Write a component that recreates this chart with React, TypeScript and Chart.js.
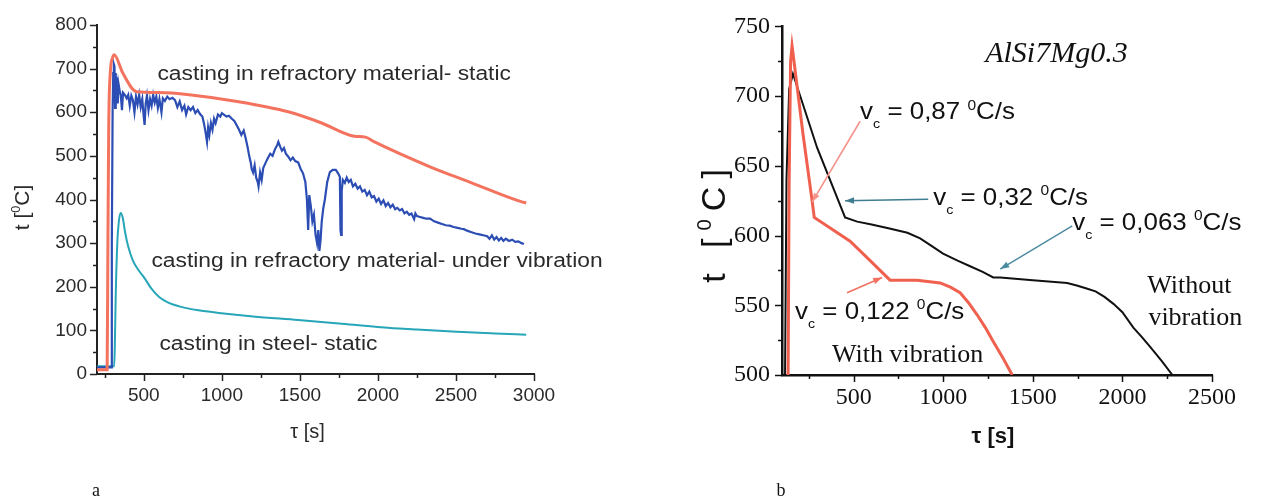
import React, { useEffect, useRef } from "react";
import { Chart, registerables } from "chart.js";

Chart.register(...registerables);

// ---------------- Panel a : data ----------------
const staticRefractoryX = [200, 265, 270, 275, 285, 300, 310, 365, 454, 600, 790, 1108, 1425, 1635, 1850, 1920, 1978, 2334, 2588, 2918, 2950];
const staticRefractoryY = [10, 10, 300, 560, 690, 725, 732, 690, 647, 645, 640, 624, 601, 576, 545, 543, 532, 475, 440, 395, 392];

const vibrationRefractoryX = [
  200, 290, 295, 300, 304, 308, 312, 316, 320, 324, 328, 333, 338, 345, 352, 360, 367, 378, 390, 400,
  410, 420, 430, 440, 450, 460, 470, 480, 490, 498, 505, 512, 520, 530, 540, 550, 560, 570, 580, 590,
  600, 613, 622, 635, 650, 665, 683, 700, 715, 730, 745, 760, 771, 785, 800, 815, 830, 845, 860, 875,
  885, 895, 905, 912, 920, 930, 940, 950, 960, 975, 990, 1000, 1015, 1030, 1045, 1064, 1080, 1095, 1110, 1125,
  1140, 1153, 1165, 1175, 1185, 1191, 1200, 1210, 1220, 1230, 1235, 1245, 1255, 1265, 1280, 1295, 1310, 1325, 1340, 1355,
  1362, 1375, 1385, 1398, 1410, 1426, 1440, 1455, 1470, 1489, 1505, 1520, 1535, 1545, 1553, 1560, 1570, 1580, 1590, 1600,
  1610, 1618, 1625, 1632, 1640, 1650, 1660, 1675, 1692, 1710, 1730, 1745, 1756, 1760, 1764, 1768, 1775, 1788, 1800, 1813,
  1826, 1840, 1855, 1870, 1885, 1900, 1915, 1930, 1945, 1960, 1975, 1990, 2005, 2020, 2035, 2050, 2065, 2080, 2095, 2110,
  2124, 2140, 2155, 2170, 2185, 2200, 2215, 2232, 2240, 2250, 2270, 2290, 2310, 2334, 2360, 2385, 2410, 2435, 2460, 2485,
  2510, 2535, 2550, 2575, 2600, 2625, 2650, 2675, 2700, 2715, 2730, 2745, 2760, 2775, 2790, 2804, 2820, 2840, 2860, 2880,
  2900, 2920, 2935,
];
const vibrationRefractoryY = [
  15, 15, 300, 600, 690, 710, 705, 610, 690, 640, 680, 620, 665, 650, 640, 605, 645, 640, 632, 640,
  615, 638, 628, 600, 636, 618, 640, 612, 630, 595, 571, 620, 638, 605, 630, 615, 640, 622, 636, 610,
  630, 600, 632, 626, 636, 630, 633, 628, 612, 625, 605, 615, 595, 612, 605, 612, 598, 605, 596, 590,
  575, 555, 532, 565, 548, 575, 560, 585, 575, 595, 590, 598, 594, 590, 592, 585, 580, 570, 560, 548,
  558, 540, 520, 500, 485, 470, 462, 478, 450, 440, 430, 462, 445, 472, 484, 495, 505, 500, 515, 525,
  532, 520, 512, 518, 505, 498, 490, 496, 488, 485, 470, 460, 440, 400, 330, 410, 385, 350, 365, 320,
  300, 330, 282, 305, 350, 380, 400, 440, 463, 468, 468, 460, 452, 330, 319, 420, 445, 438, 450, 440,
  445, 430, 436, 425, 430, 418, 422, 410, 418, 405, 408, 395, 402, 390, 398, 385, 392, 382, 388, 378,
  381, 375, 378, 368, 372, 365, 368, 355, 368, 362, 360, 358, 356, 356, 350, 347, 344, 341, 340, 337,
  335, 333, 332, 328, 325, 322, 320, 318, 316, 310, 318, 308, 314, 306, 312, 305, 310, 305, 308, 303,
  304, 300, 298,
];

const steelStaticX = [200, 310, 314, 320, 330, 340, 352, 365, 380, 400, 430, 470, 500, 550, 600, 660, 727, 850, 981, 1200, 1489, 1750, 1997, 2250, 2505, 2750, 2950];
const steelStaticY = [18, 18, 60, 180, 300, 350, 369, 358, 325, 292, 260, 236, 222, 195, 176, 163, 155, 146, 140, 132, 124, 116, 108, 102, 97, 93, 90];

const xTicksA = [500, 1000, 1500, 2000, 2500, 3000];
const xMinorA = [250, 750, 1250, 1750, 2250, 2750];
const yTicksA = [0, 100, 200, 300, 400, 500, 600, 700, 800];
const yMinorA = [50, 150, 250, 350, 450, 550, 650, 750];

// ---------------- Panel b : data ----------------
const withoutVibrationX = [117, 125, 140, 161, 296, 452, 520, 600, 700, 800, 871, 930, 999, 1080, 1150, 1220, 1279, 1318, 1500, 1692, 1750, 1800, 1850, 1900, 1950, 2000, 2061, 2110, 2156, 2220, 2279];
const withoutVibrationY = [500, 640, 705, 716, 663, 613, 610, 608, 605, 602, 598, 593, 587, 582, 578, 574, 570, 570, 568, 566, 564, 562, 560, 556, 551, 545, 534, 527, 520, 510, 500];

const withVibrationX = [134, 140, 148, 156, 162, 217, 268, 280, 480, 592, 703, 854, 983, 1040, 1094, 1140, 1190, 1235, 1279, 1330, 1385];
const withVibrationY = [500, 640, 725, 736, 730, 673, 625, 613, 596, 582, 568, 568, 566, 563, 559, 552, 543, 534, 524, 513, 500];

const xTicksB = [500, 1000, 1500, 2000, 2500];
const xMinorB = [250, 750, 1250, 1750, 2250];
const yTicksB = [500, 550, 600, 650, 700, 750];
const yMinorB = [525, 575, 625, 675, 725];

// ---------------- helpers ----------------
type Seg = { t: string; sub?: boolean; sup?: boolean };

const pts = (xs: number[], ys: number[]) => xs.map((x, i) => ({ x, y: ys[i] }));

function segFont(s: Seg, size: number, family: string, style: string) {
  const fs = s.sub ? size * 0.55 : s.sup ? size * 0.6 : size;
  return `${style} ${fs}px ${family}`;
}

function drawRich(
  ctx: CanvasRenderingContext2D,
  segs: Seg[],
  x: number,
  y: number,
  size: number,
  family: string,
  style: string,
  color: string,
  align: "left" | "center" = "left",
  sx = 1,
  rotate = 0,
  spacing = 0
) {
  ctx.save();
  ctx.translate(x, y);
  if (rotate) ctx.rotate(rotate);
  ctx.scale(sx, 1);
  ctx.fillStyle = color;
  ctx.textBaseline = "middle";
  ctx.textAlign = "left";
  (ctx as any).letterSpacing = `${spacing}px`;
  const widths: number[] = [];
  let w = 0;
  for (const s of segs) {
    ctx.font = segFont(s, size, family, style);
    const m = ctx.measureText(s.t).width;
    widths.push(m);
    w += m;
  }
  let cx = align === "center" ? -w / 2 : 0;
  segs.forEach((s, i) => {
    ctx.font = segFont(s, size, family, style);
    const dy = s.sub ? size * 0.5 : s.sup ? -size * 0.3 : 0;
    ctx.fillText(s.t, cx, dy);
    cx += widths[i];
  });
  (ctx as any).letterSpacing = "0px";
  ctx.restore();
}

type DataLabel = { segs: Seg[]; x: number; y: number; size: number; family: string; style: string; color: string; sx?: number };
type Arrow = { from: [number, number]; to: [number, number]; color: string; width: number };
type Title = { segs: Seg[]; size: number; family: string; style: string; color: string; rotate: boolean; spacing?: number; pos: (a: any) => [number, number] };

interface Spec {
  axisColor: string;
  xMajor: number[];
  xMinor: number[];
  yMajor: number[];
  yMinor: number[];
  labels: DataLabel[];
  arrows: Arrow[];
  titles: Title[];
}

function decor(spec: Spec) {
  return {
    id: "decor",
    afterDraw(chart: any) {
      const ctx: CanvasRenderingContext2D = chart.ctx;
      const xs = chart.scales.x;
      const ys = chart.scales.y;
      const a = chart.chartArea;
      ctx.save();
      // ticks
      ctx.strokeStyle = spec.axisColor;
      ctx.lineWidth = 1.5;
      const xt = (vals: number[], len: number) => {
        for (const v of vals) {
          const p = Math.round(xs.getPixelForValue(v)) + 0.5;
          ctx.beginPath();
          ctx.moveTo(p, a.bottom);
          ctx.lineTo(p, a.bottom + len);
          ctx.stroke();
        }
      };
      const yt = (vals: number[], len: number) => {
        for (const v of vals) {
          const p = Math.round(ys.getPixelForValue(v)) + 0.5;
          ctx.beginPath();
          ctx.moveTo(a.left, p);
          ctx.lineTo(a.left - len, p);
          ctx.stroke();
        }
      };
      xt(spec.xMajor, 7);
      xt(spec.xMinor, 4);
      yt(spec.yMajor, 7);
      yt(spec.yMinor, 4);
      // arrows
      for (const ar of spec.arrows) {
        const x1 = xs.getPixelForValue(ar.from[0]);
        const y1 = ys.getPixelForValue(ar.from[1]);
        const x2 = xs.getPixelForValue(ar.to[0]);
        const y2 = ys.getPixelForValue(ar.to[1]);
        ctx.strokeStyle = ar.color;
        ctx.fillStyle = ar.color;
        ctx.lineWidth = ar.width;
        ctx.beginPath();
        ctx.moveTo(x1, y1);
        ctx.lineTo(x2, y2);
        ctx.stroke();
        const ang = Math.atan2(y2 - y1, x2 - x1);
        const L = 9, W = 3.2;
        const bx = x2 - L * Math.cos(ang);
        const by = y2 - L * Math.sin(ang);
        ctx.beginPath();
        ctx.moveTo(x2, y2);
        ctx.lineTo(bx + W * Math.sin(ang), by - W * Math.cos(ang));
        ctx.lineTo(bx - W * Math.sin(ang), by + W * Math.cos(ang));
        ctx.closePath();
        ctx.fill();
      }
      // data-anchored labels
      for (const l of spec.labels) {
        drawRich(ctx, l.segs, xs.getPixelForValue(l.x), ys.getPixelForValue(l.y), l.size, l.family, l.style, l.color, "left", l.sx ?? 1);
      }
      // axis titles / panel letters
      for (const t of spec.titles) {
        const [px, py] = t.pos(a);
        drawRich(ctx, t.segs, px, py, t.size, t.family, t.style, t.color, "center", 1, t.rotate ? -Math.PI / 2 : 0, t.spacing ?? 0);
      }
      ctx.restore();
    },
  };
}

const SANS = "'Liberation Sans', Arial, sans-serif";
const SERIF = "'Liberation Serif', 'Times New Roman', serif";

// ---------------- chart a ----------------
function makeChartA(canvas: HTMLCanvasElement) {
  const axis = "#222";
  const txt = "#2a2a2a";
  const spec: Spec = {
    axisColor: axis,
    xMajor: xTicksA,
    xMinor: xMinorA,
    yMajor: yTicksA,
    yMinor: yMinorA,
    arrows: [],
    labels: [
      { segs: [{ t: "casting in refractory material- static" }], x: 587, y: 686, size: 20, family: SANS, style: "normal", color: txt, sx: 1.14 },
      { segs: [{ t: "casting in refractory material- under vibration" }], x: 549, y: 259, size: 20, family: SANS, style: "normal", color: txt, sx: 1.14 },
      { segs: [{ t: "casting in steel- static" }], x: 600, y: 68, size: 20, family: SANS, style: "normal", color: txt, sx: 1.14 },
    ],
    titles: [
      { segs: [{ t: "t [" }, { t: "0", sup: true }, { t: "C]" }], size: 21, family: SANS, style: "normal", color: txt, rotate: true, pos: (a) => [a.left - 74, (a.top + a.bottom) / 2 + 8] },
      { segs: [{ t: "τ [s]" }], size: 20, family: SANS, style: "normal", color: txt, rotate: false, pos: (a) => [(a.left + a.right) / 2 - 8, a.bottom + 58] },
      { segs: [{ t: "a" }], size: 18, family: SERIF, style: "normal", color: "#111", rotate: false, pos: () => [96, 491] },
    ],
  };
  return new Chart(canvas, {
    type: "line",
    data: {
      datasets: [
        { label: "casting in refractory material- static", data: pts(staticRefractoryX, staticRefractoryY), borderColor: "#f4735f", borderWidth: 3, pointRadius: 0, cubicInterpolationMode: "monotone" },
        { label: "casting in refractory material- under vibration", data: pts(vibrationRefractoryX, vibrationRefractoryY), borderColor: "#2c4db4", borderWidth: 2.2, pointRadius: 0, tension: 0 },
        { label: "casting in steel- static", data: pts(steelStaticX, steelStaticY), borderColor: "#26a6b8", borderWidth: 2, pointRadius: 0, cubicInterpolationMode: "monotone" },
      ],
    },
    options: {
      responsive: false,
      animation: false,
      events: [],
      layout: { padding: { top: 25, right: 106, left: 0, bottom: 0 } },
      plugins: { legend: { display: false }, tooltip: { enabled: false } },
      scales: {
        x: {
          type: "linear",
          min: 200,
          max: 3000,
          afterBuildTicks: (s: any) => { s.ticks = xTicksA.map((value) => ({ value })); },
          afterFit: (s: any) => { s.height = 127; },
          grid: { display: false, drawTicks: false },
          border: { display: true, color: axis, width: 2 },
          ticks: { autoSkip: false, maxRotation: 0, padding: 10, color: txt, font: { family: SANS, size: 19 }, callback: (v: any) => String(v) },
        },
        y: {
          type: "linear",
          min: 0,
          max: 800,
          afterBuildTicks: (s: any) => { s.ticks = yTicksA.map((value) => ({ value })); },
          afterFit: (s: any) => { s.width = 97; },
          grid: { display: false, drawTicks: false },
          border: { display: true, color: axis, width: 2 },
          ticks: { autoSkip: false, padding: 10, color: txt, font: { family: SANS, size: 19 }, callback: (v: any) => String(v) },
        },
      },
    },
    plugins: [decor(spec)],
  } as any);
}

// ---------------- chart b ----------------
function makeChartB(canvas: HTMLCanvasElement) {
  const axis = "#111";
  const txt = "#111";
  const vc = (val: string): Seg[] => [{ t: "v" }, { t: "c", sub: true }, { t: " = " + val + " " }, { t: "0", sup: true }, { t: "C/s" }];
  const spec: Spec = {
    axisColor: axis,
    xMajor: xTicksB,
    xMinor: xMinorB,
    yMajor: yTicksB,
    yMinor: yMinorB,
    arrows: [
      { from: [536, 682], to: [268, 624], color: "#f5928a", width: 1.6 },
      { from: [916, 626], to: [452, 625], color: "#3f7d90", width: 1.4 },
      { from: [1720, 607], to: [1318, 576], color: "#4a8aa0", width: 1.4 },
      { from: [463, 559], to: [659, 570], color: "#f07262", width: 1.6 },
    ],
    labels: [
      { segs: [{ t: "AlSi7Mg0.3" }], x: 1234, y: 730, size: 30, family: SERIF, style: "italic", color: txt },
      { segs: vc("0,87"), x: 536, y: 688, size: 24, family: SANS, style: "normal", color: txt, sx: 1.08 },
      { segs: vc("0,32"), x: 944, y: 627, size: 24, family: SANS, style: "normal", color: txt, sx: 1.08 },
      { segs: vc("0,063"), x: 1720, y: 609, size: 24, family: SANS, style: "normal", color: txt, sx: 1.08 },
      { segs: vc("0,122"), x: 173, y: 545, size: 24, family: SANS, style: "normal", color: txt, sx: 1.08 },
      { segs: [{ t: "With vibration" }], x: 379, y: 514, size: 26, family: SERIF, style: "normal", color: txt },
      { segs: [{ t: "Without" }], x: 2139, y: 564, size: 26, family: SERIF, style: "normal", color: txt },
      { segs: [{ t: "vibration" }], x: 2145, y: 541, size: 26, family: SERIF, style: "normal", color: txt },
    ],
    titles: [
      { segs: [{ t: "t [" }, { t: "0", sup: true }, { t: "C]" }], size: 34, family: SANS, style: "normal", color: txt, rotate: true, spacing: 8, pos: (a) => [a.left - 66, 222] },
      { segs: [{ t: "τ [s]" }], size: 22, family: SANS, style: "bold", color: txt, rotate: false, pos: (a) => [(a.left + a.right) / 2 - 4, a.bottom + 62] },
      { segs: [{ t: "b" }], size: 18, family: SERIF, style: "normal", color: "#111", rotate: false, pos: () => [141, 491] },
    ],
  };
  return new Chart(canvas, {
    type: "line",
    data: {
      datasets: [
        { label: "With vibration", data: pts(withVibrationX, withVibrationY), borderColor: "#f0604e", borderWidth: 3, pointRadius: 0, tension: 0 },
        { label: "Without vibration", data: pts(withoutVibrationX, withoutVibrationY), borderColor: "#111111", borderWidth: 2, pointRadius: 0, tension: 0 },
      ],
    },
    options: {
      responsive: false,
      animation: false,
      events: [],
      layout: { padding: { top: 25, right: 49, left: 0, bottom: 0 } },
      plugins: { legend: { display: false }, tooltip: { enabled: false } },
      scales: {
        x: {
          type: "linear",
          min: 100,
          max: 2500,
          afterBuildTicks: (s: any) => { s.ticks = xTicksB.map((value) => ({ value })); },
          afterFit: (s: any) => { s.height = 126; },
          grid: { display: false, drawTicks: false },
          border: { display: true, color: axis, width: 2.5 },
          ticks: { autoSkip: false, maxRotation: 0, padding: 8, color: txt, font: { family: SERIF, size: 24 }, callback: (v: any) => String(v) },
        },
        y: {
          type: "linear",
          min: 500,
          max: 750,
          afterBuildTicks: (s: any) => { s.ticks = yTicksB.map((value) => ({ value })); },
          afterFit: (s: any) => { s.width = 142; },
          grid: { display: false, drawTicks: false },
          border: { display: true, color: axis, width: 2.5 },
          ticks: { autoSkip: false, padding: 12, color: txt, font: { family: SERIF, size: 24 }, callback: (v: any) => String(v) },
        },
      },
    },
    plugins: [decor(spec)],
  } as any);
}

export default function App() {
  const refA = useRef<HTMLCanvasElement>(null);
  const refB = useRef<HTMLCanvasElement>(null);
  useEffect(() => {
    const ca = makeChartA(refA.current!);
    const cb = makeChartB(refB.current!);
    return () => {
      ca.destroy();
      cb.destroy();
    };
  }, []);
  return (
    <div style={{ position: "absolute", left: 0, top: 0, width: 1261, height: 501, background: "#fff", overflow: "hidden" }}>
      <canvas ref={refA} width={640} height={501} style={{ position: "absolute", left: 0, top: 0, width: 640, height: 501 }} />
      <canvas ref={refB} width={621} height={501} style={{ position: "absolute", left: 640, top: 0, width: 621, height: 501 }} />
    </div>
  );
}
